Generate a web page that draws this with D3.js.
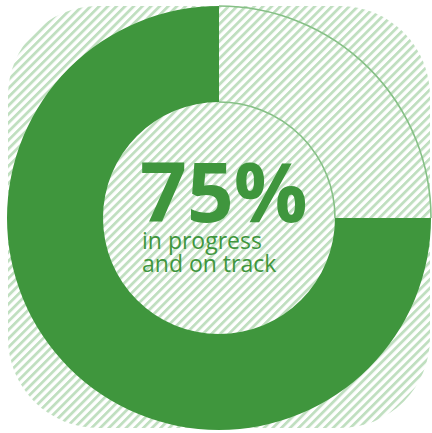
<!DOCTYPE html>
<html>
<head>
<meta charset="utf-8">
<script src="https://cdn.jsdelivr.net/npm/d3@7"></script>
<style>
  html, body { margin: 0; padding: 0; background: #fff; }
  svg { display: block; }
</style>
</head>
<body>
<div id="chart"></div>
<script>
var categories = ["in progress and on track", "not yet"];
var values     = [75, 25];
var bigLabel   = "75%";
var subLines   = ["in progress", "and on track"];

var width = 432, height = 433;
var cx = 219, cy = 218,
    outerR = 212, innerR = 116;

var green = "#3f963d",
    hatch = "#c0dfc0",
    edge  = "#86c086";

var svg = d3.select("#chart").append("svg")
    .attr("width", width)
    .attr("height", height);

var defs = svg.append("defs");

// diagonal hatching
var pat = defs.append("pattern")
    .attr("id", "hatch")
    .attr("patternUnits", "userSpaceOnUse")
    .attr("width", 6.1)
    .attr("height", 6.1)
    .attr("patternTransform", "rotate(45)");
pat.append("rect")
    .attr("x", 0).attr("y", 0)
    .attr("width", 2.8).attr("height", 6.1)
    .attr("fill", hatch);

// hatched background (rounded square behind the ring)
svg.append("rect")
    .attr("x", 8).attr("y", 6)
    .attr("width", 422).attr("height", 422)
    .attr("rx", 90).attr("ry", 90)
    .attr("fill", "url(#hatch)");

var pie = d3.pie()
    .sort(null)
    .value(function (d) { return d; })
    .startAngle(Math.PI / 2)
    .endAngle(Math.PI / 2 + 2 * Math.PI);

var arc = d3.arc()
    .innerRadius(innerR)
    .outerRadius(outerR);

var g = svg.append("g")
    .attr("transform", "translate(" + cx + "," + cy + ")");

var slices = pie(values);

g.selectAll("path.slice")
    .data(slices)
    .enter().append("path")
    .attr("class", "slice")
    .attr("d", arc)
    .attr("fill", function (d, i) { return i === 0 ? green : "none"; });

// thin outline arcs on the open part
var rest = slices[1];
[outerR, innerR].forEach(function (r) {
  g.append("path")
    .attr("d", d3.arc()({innerRadius: r, outerRadius: r,
        startAngle: rest.startAngle, endAngle: rest.endAngle}))
    .attr("fill", "none")
    .attr("stroke", edge)
    .attr("stroke-width", 1.6);
});

// centre text
svg.append("text")
    .attr("x", 140)
    .attr("y", 222)
    .attr("font-family", "'Open Sans', sans-serif")
    .attr("font-weight", 700)
    .attr("font-size", 82)
    .attr("fill", green)
    .text(bigLabel);

svg.selectAll("text.sub")
    .data(subLines)
    .enter().append("text")
    .attr("class", "sub")
    .attr("x", 142)
    .attr("y", function (d, i) { return 249 + i * 23; })
    .attr("font-family", "'Open Sans', sans-serif")
    .attr("font-size", 23)
    .attr("fill", green)
    .text(function (d) { return d; });
</script>
</body>
</html>
